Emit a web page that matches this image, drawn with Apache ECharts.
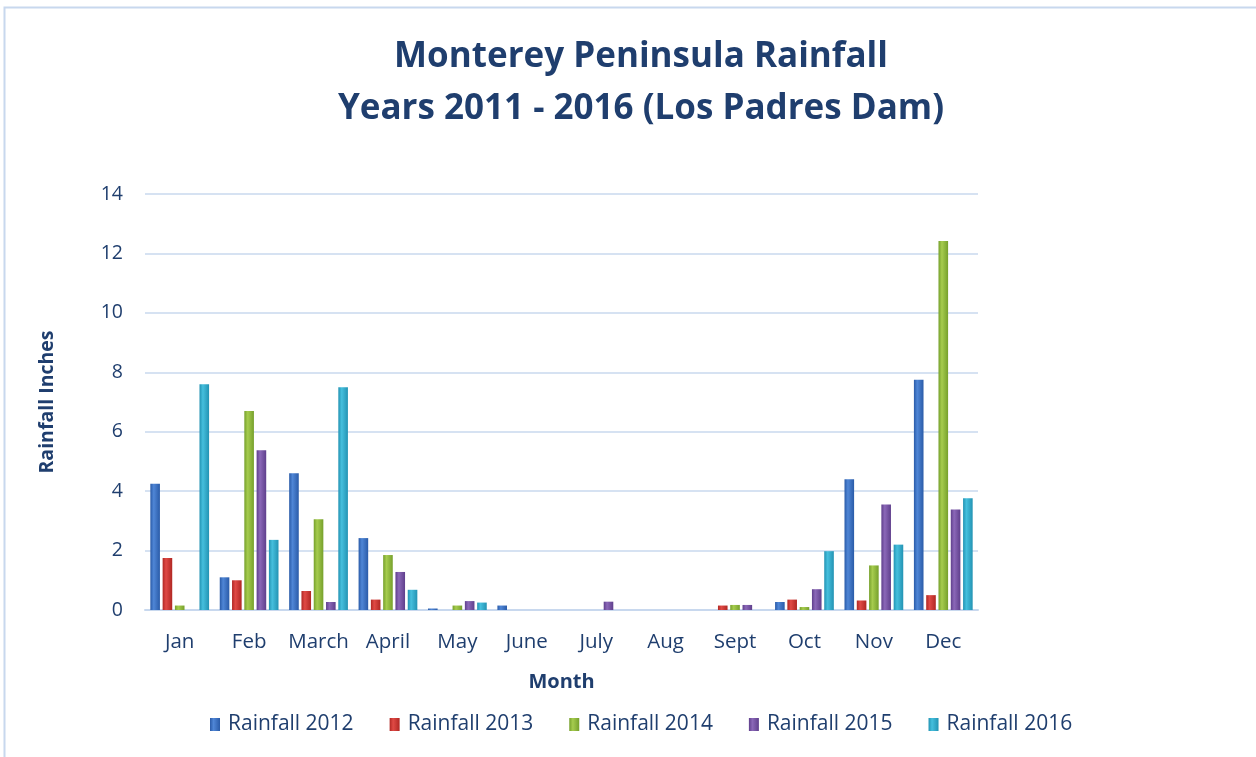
<!DOCTYPE html>
<html><head><meta charset="utf-8">
<script src="https://cdn.jsdelivr.net/npm/echarts@6/dist/echarts.min.js"></script>
<style>html,body{margin:0;padding:0;background:#fff}#c{width:1256px;height:757px}</style>
</head><body><div id="c"></div>
<script>
const months = ['Jan','Feb','March','April','May','June','July','Aug','Sept','Oct','Nov','Dec'];
const yTicks = [0,2,4,6,8,10,12,14];
const rain2012 = [4.25,1.1,4.6,2.42,0.05,0.15,0,0,0,0.27,4.4,7.75];
const rain2013 = [1.75,1.0,0.64,0.35,0,0,0,0,0.15,0.35,0.32,0.5];
const rain2014 = [0.15,6.7,3.05,1.85,0.15,0,0,0,0.17,0.1,1.5,12.42];
const rain2015 = [0,5.38,0.27,1.28,0.3,0,0.28,0,0.17,0.7,3.55,3.38];
const rain2016 = [7.6,2.36,7.5,0.68,0.25,0,0,0,0,1.98,2.2,3.76];
const seriesNames = ['Rainfall 2012','Rainfall 2013','Rainfall 2014','Rainfall 2015','Rainfall 2016'];
const seriesData = [rain2012,rain2013,rain2014,rain2015,rain2016];
const baseColors = [['#4f86d6','#2a5ba8'],['#e04a45','#b02723'],['#a6cc4e','#76a02c'],['#8b68b8','#5f3f8c'],['#45bfdd','#2393b3']];
const txt = '#1f3e6e';
const font = 'Open Sans';
function grad(c){return new echarts.graphic.LinearGradient(0,0,1,0,[{offset:0,color:c[1]},{offset:0.35,color:c[0]},{offset:1,color:c[1]}]);}
const chart = echarts.init(document.getElementById('c'));
chart.setOption({
  backgroundColor:'#fff',
  animation:false,
  title:{text:'Monterey Peninsula Rainfall\nYears 2011 - 2016 (Los Padres Dam)',left:636,top:26,textAlign:'center',
    textStyle:{color:txt,fontSize:35,fontWeight:'bold',fontFamily:font,lineHeight:52}},
  graphic:[{type:'polyline',shape:{points:[[4.5,760],[4.5,7.5],[1256,7.5]]},style:{stroke:'#c8d8ee',lineWidth:2,fill:null},silent:true}],
  legend:{bottom:17,left:205,itemWidth:10,itemHeight:13,itemGap:36,icon:'rect',
    textStyle:{color:txt,fontSize:21,fontFamily:font,padding:[0,0,0,3]},data:seriesNames},
  grid:{left:145,right:278,top:194,bottom:147,containLabel:false},
  xAxis:{type:'category',data:months,name:'Month',nameLocation:'middle',nameGap:62,
    nameTextStyle:{color:txt,fontSize:20,fontWeight:'bold',fontFamily:font},
    axisLine:{lineStyle:{color:'#c8d8ee',width:2}},axisTick:{show:false},
    axisLabel:{color:txt,fontSize:20.5,fontFamily:font,margin:22,interval:0}},
  yAxis:{type:'value',min:0,max:14,interval:2,name:'Rainfall Inches',nameLocation:'middle',nameGap:88,nameRotate:90,
    nameTextStyle:{color:txt,fontSize:19.5,fontWeight:'bold',fontFamily:font},
    axisLine:{show:false},axisTick:{show:false},
    axisLabel:{color:txt,fontSize:19.5,fontFamily:font,margin:22,formatter:v=>yTicks.includes(v)?String(v):''},
    splitLine:{lineStyle:{color:'#c8d8ee',width:1.5}}},
  series:seriesNames.map((n,i)=>({name:n,type:'bar',data:seriesData[i],barWidth:9.6,barGap:'28%',
    itemStyle:{color:grad(baseColors[i])}}))
});
</script></body></html>
